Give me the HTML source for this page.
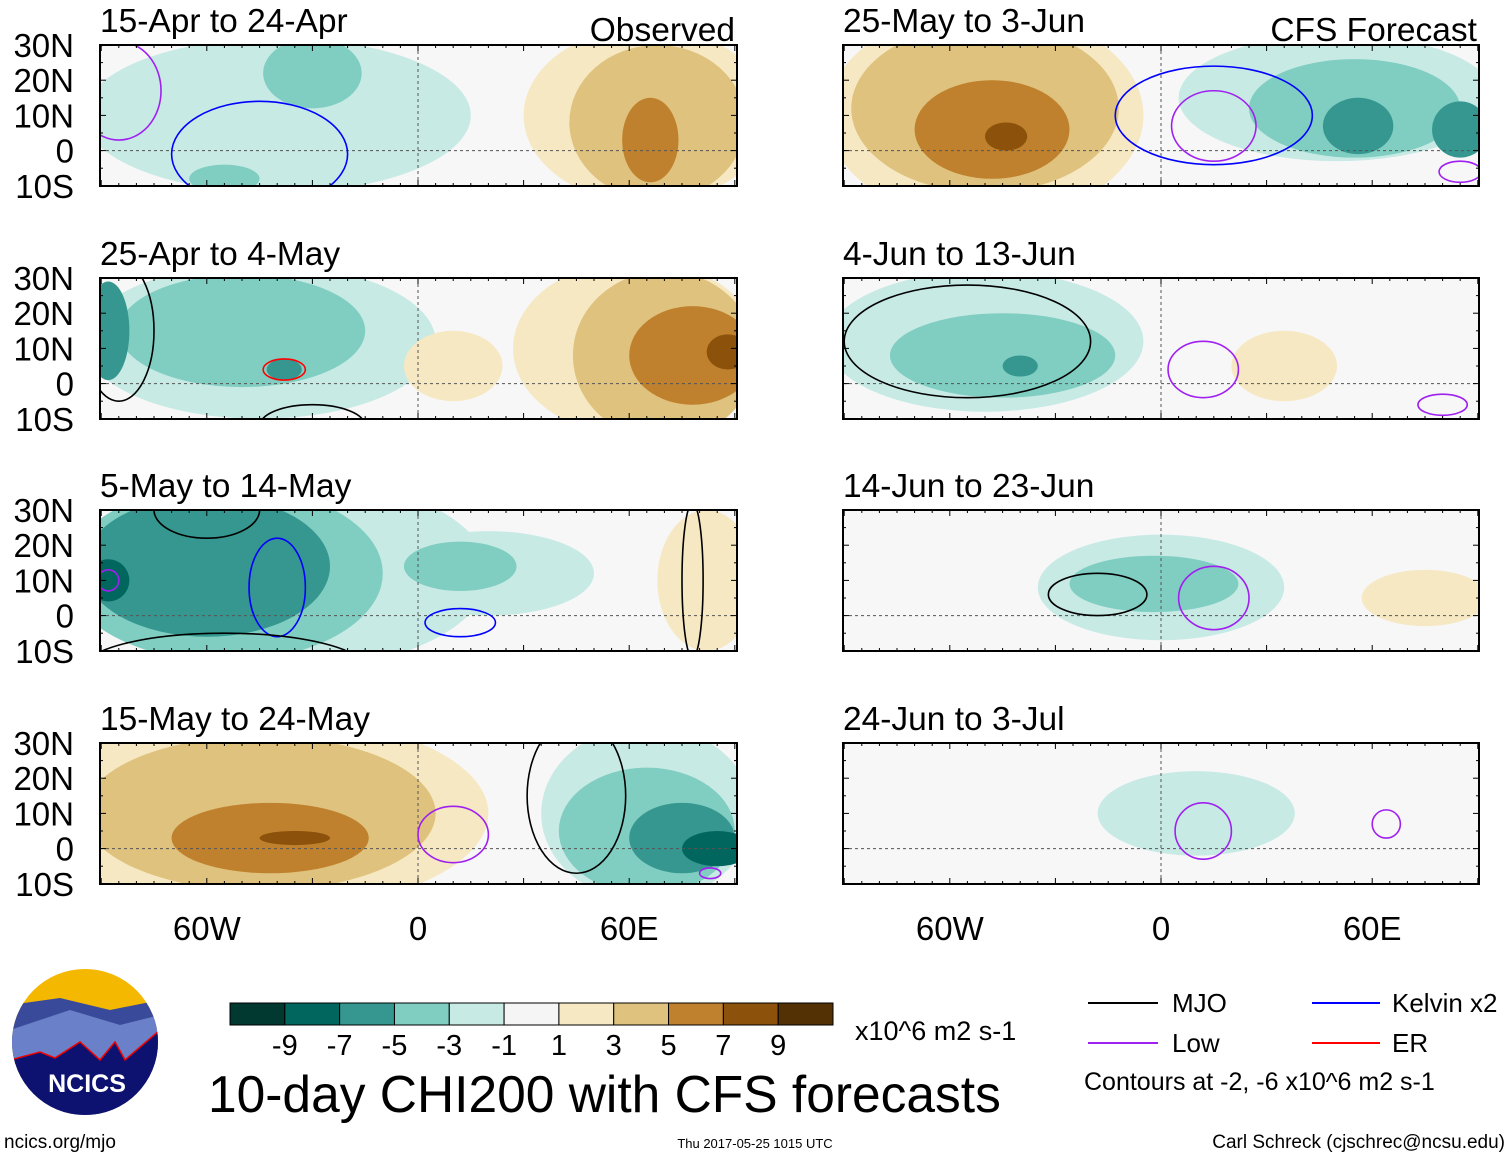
<!DOCTYPE html>
<html><head><meta charset="utf-8"><style>
html,body{margin:0;padding:0;background:#fff;}
svg{display:block;font-family:"Liberation Sans",sans-serif;}
</style></head><body>
<svg id="chart" width="1510" height="1158" viewBox="0 0 1510 1158" xmlns="http://www.w3.org/2000/svg">
<defs></defs>
<g id="panels"></g>
<g id="colorbar"></g>
<text x="208" y="1112" font-size="51.5">10-day CHI200 with CFS forecasts</text>
<text x="855" y="1040" font-size="27">x10^6 m2 s-1</text>
<g>
<line x1="1088" y1="1003" x2="1158" y2="1003" stroke="#000" stroke-width="2"/>
<text x="1172" y="1012" font-size="26">MJO</text>
<line x1="1088" y1="1043" x2="1158" y2="1043" stroke="#a020f0" stroke-width="2"/>
<text x="1172" y="1052" font-size="26">Low</text>
<line x1="1312" y1="1003" x2="1380" y2="1003" stroke="#0000ff" stroke-width="2"/>
<text x="1392" y="1012" font-size="26">Kelvin x2</text>
<line x1="1312" y1="1043" x2="1380" y2="1043" stroke="#ff0000" stroke-width="2"/>
<text x="1392" y="1052" font-size="26">ER</text>
<text x="1084" y="1090" font-size="25">Contours at -2, -6 x10^6 m2 s-1</text>
</g>
<g>
<clipPath id="logoclip"><circle cx="85" cy="1042" r="73"/></clipPath>
<g clip-path="url(#logoclip)">
<rect x="10" y="968" width="150" height="150" fill="#f5b800"/>
<path d="M10 1005 L60 998 L110 1010 L160 1000 L160 1120 L10 1120Z" fill="#3a4a9a"/>
<path d="M10 1030 L70 1010 L120 1025 L160 1015 L160 1120 L10 1120Z" fill="#6a80c8"/>
<path d="M10 1060 L40 1052 L55 1058 L80 1042 L100 1060 L115 1042 L125 1060 L160 1030 L160 1120 L10 1120Z" fill="#0d1270" stroke="#e00" stroke-width="1.5"/>
</g>
<text x="87" y="1092" font-size="25" font-weight="bold" fill="#fff" text-anchor="middle">NCICS</text>
</g>
<text x="4" y="1148" font-size="19">ncics.org/mjo</text>
<text x="755" y="1148" font-size="13" text-anchor="middle">Thu 2017-05-25 1015 UTC</text>
<text x="1505" y="1148" font-size="19" text-anchor="end">Carl Schreck (cjschrec@ncsu.edu)</text>
</svg>
<script>
const levelColors=["#01382f","#01665e","#35978f","#80cdc1","#c7eae5","#f5f5f5","#f6e8c3","#dfc27d","#bf812d","#8c510a","#543005"];
const levelTicks=["-9","-7","-5","-3","-1","1","3","5","7","9"];
const panelTitles=["15-Apr to 24-Apr","25-Apr to 4-May","5-May to 14-May","15-May to 24-May","25-May to 3-Jun","4-Jun to 13-Jun","14-Jun to 23-Jun","24-Jun to 3-Jul"];
const latTicks=[30,20,10,0,-10];
const latLabels=["30N","20N","10N","0","10S"];
const lonTicks=[-60,0,60];
const lonLabels=["60W","0","60E"];
// blobs: [lon, lat, rxDeg, ryDeg, levelIndex]
const blobs0=[[-40,10,55,22,4],[-30,22,14,10,3],[-55,-8,10,4,3],[65,10,35,25,6],[68,8,25,22,7],[66,3,8,12,8]];
const blobs1=[[-45,12,50,22,4],[-50,15,35,16,3],[-88,15,6,14,2],[-38,4,5,3,2],[62,10,35,25,6],[70,8,26,24,7],[78,8,18,14,8],[88,9,6,5,9],[10,5,14,10,6]];
const blobs2=[[-40,12,60,28,4],[-55,12,45,25,3],[-60,14,35,20,2],[-88,10,6,6,1],[20,12,30,12,4],[12,14,16,7,3],[82,10,14,20,6]];
const blobs3=[[-45,10,65,28,6],[-45,10,50,22,7],[-42,3,28,10,8],[-35,3,10,2,9],[65,10,30,25,4],[65,5,25,18,3],[75,3,15,10,2],[85,0,10,5,1]];
const blobs4=[[-50,10,45,30,6],[-50,12,38,24,7],[-48,6,22,14,8],[-44,4,6,4,9],[50,15,45,18,4],[55,12,30,14,3],[56,7,10,8,2],[85,6,8,8,2]];
const blobs5=[[-50,12,45,20,4],[-45,8,32,12,3],[-40,5,5,3,2],[35,5,15,10,6]];
const blobs6=[[0,8,35,15,4],[-2,9,24,8,3],[75,5,18,8,6]];
const blobs7=[[10,10,28,12,4]];
const panelBlobs=[blobs0,blobs1,blobs2,blobs3,blobs4,blobs5,blobs6,blobs7];
// contours: [lon, lat, rxDeg, ryDeg, color]
const cont0=[[-45,-1,25,15,"#0000ff"],[-85,17,12,14,"#a020f0"]];
const cont1=[[-38,4,6,3,"#ff0000"],[-85,15,10,20,"#000000"],[-30,-12,15,6,"#000000"]];
const cont2=[[-40,8,8,14,"#0000ff"],[12,-2,10,4,"#0000ff"],[-55,-15,40,10,"#000000"],[-60,30,15,8,"#000000"],[-88,10,3,3,"#a020f0"],[78,10,3,22,"#000000"]];
const cont3=[[10,4,10,8,"#a020f0"],[45,15,14,22,"#000000"],[83,-7,3,1.5,"#a020f0"]];
const cont4=[[15,10,28,14,"#0000ff"],[15,7,12,10,"#a020f0"],[85,-6,6,3,"#a020f0"]];
const cont5=[[-55,12,35,16,"#000000"],[12,4,10,8,"#a020f0"],[80,-6,7,3,"#a020f0"]];
const cont6=[[-18,6,14,6,"#000000"],[15,5,10,9,"#a020f0"]];
const cont7=[[12,5,8,8,"#a020f0"],[64,7,4,4,"#a020f0"]];
const panelConts=[cont0,cont1,cont2,cont3,cont4,cont5,cont6,cont7];

const NS="http://www.w3.org/2000/svg";
function mk(t,a,p){const e=document.createElementNS(NS,t);for(const k in a)e.setAttribute(k,a[k]);p.appendChild(e);return e;}
const panelsG=document.getElementById('panels');
const rowsY=[45,278,510,743];
const colX=[[100,737,418],[843,1479,1161]];
const scale=3.52;
for(let i=0;i<8;i++){
  const col=i<4?0:1,row=i%4;
  const x0=colX[col][0],x1=colX[col][1],x00=colX[col][2],y0=rowsY[row],y1=y0+141;
  const lonX=l=>x00+l*scale;
  const latY=l=>y0+(30-l)*scale;
  const g=mk('g',{},panelsG);
  
  
  const cp=mk('clipPath',{id:'cp'+i},g);
  mk('rect',{x:x0,y:y0,width:x1-x0,height:y1-y0},cp);
  const inner=mk('g',{'clip-path':'url(#cp'+i+')'},g);
  mk('rect',{x:x0,y:y0,width:x1-x0,height:y1-y0,fill:'#f7f7f7'},inner);
  panelBlobs[i].forEach(b=>{
    const e=mk('ellipse',{cx:lonX(b[0]),cy:latY(b[1]),rx:b[2]*scale,ry:b[3]*scale,fill:levelColors[b[4]]},inner);
    
    
  });
  mk('line',{x1:x0,y1:latY(0),x2:x1,y2:latY(0),stroke:'#555','stroke-dasharray':'3,3','stroke-width':1},inner);
  mk('line',{x1:lonX(0),y1:y0,x2:lonX(0),y2:y1,stroke:'#555','stroke-dasharray':'3,3','stroke-width':1},inner);
  panelConts[i].forEach(c=>{
    const e=mk('ellipse',{cx:lonX(c[0]),cy:latY(c[1]),rx:c[2]*scale,ry:c[3]*scale,fill:'none',stroke:c[4],'stroke-width':1.6},inner);
    
    
  });
  mk('rect',{x:x0,y:y0,width:x1-x0,height:y1-y0,fill:'none',stroke:'#000','stroke-width':2},g);
  for(let l=-90;l<=90;l+=5){const x=lonX(l);if(x<x0||x>x1)continue;const len=l%30===0?6:3;
    mk('line',{x1:x,y1:y0,x2:x,y2:y0+len,stroke:'#000'},g);mk('line',{x1:x,y1:y1,x2:x,y2:y1-len,stroke:'#000'},g);}
  for(let l=-10;l<=30;l+=5){const y=latY(l);const len=l%10===0?6:3;
    mk('line',{x1:x0,y1:y,x2:x0+len,y2:y,stroke:'#000'},g);mk('line',{x1:x1,y1:y,x2:x1-len,y2:y,stroke:'#000'},g);}
  const t=mk('text',{x:x0,y:y0-13,'font-size':33.5},g);t.textContent=panelTitles[i];
  
  
  if(row===0){const s=mk('text',{x:x1-2,y:y0-4,'font-size':33.5,'text-anchor':'end'},g);s.textContent=col===0?'Observed':'CFS Forecast';
    
    }
  if(col===0){latTicks.forEach((l,k)=>{const e=mk('text',{x:74,y:latY(l)+12,'font-size':33,'text-anchor':'end'},g);e.textContent=latLabels[k];
    
    });}
  if(row===3){lonTicks.forEach((l,k)=>{const e=mk('text',{x:lonX(l),y:940,'font-size':33,'text-anchor':'middle'},g);e.textContent=lonLabels[k];
    
    });}
}
const cb=document.getElementById('colorbar');
const cbx=230,cbw=603/levelColors.length;
levelColors.forEach((c,k)=>{const r=mk('rect',{x:cbx+k*cbw,y:1003,width:cbw,height:22,fill:c,stroke:'#000','stroke-width':1},cb);
  
  });
levelTicks.forEach((t,k)=>{const e=mk('text',{x:cbx+(k+1)*cbw,y:1055,'font-size':29,'text-anchor':'middle'},cb);e.textContent=t;
  
  });
</script>
</body></html>
